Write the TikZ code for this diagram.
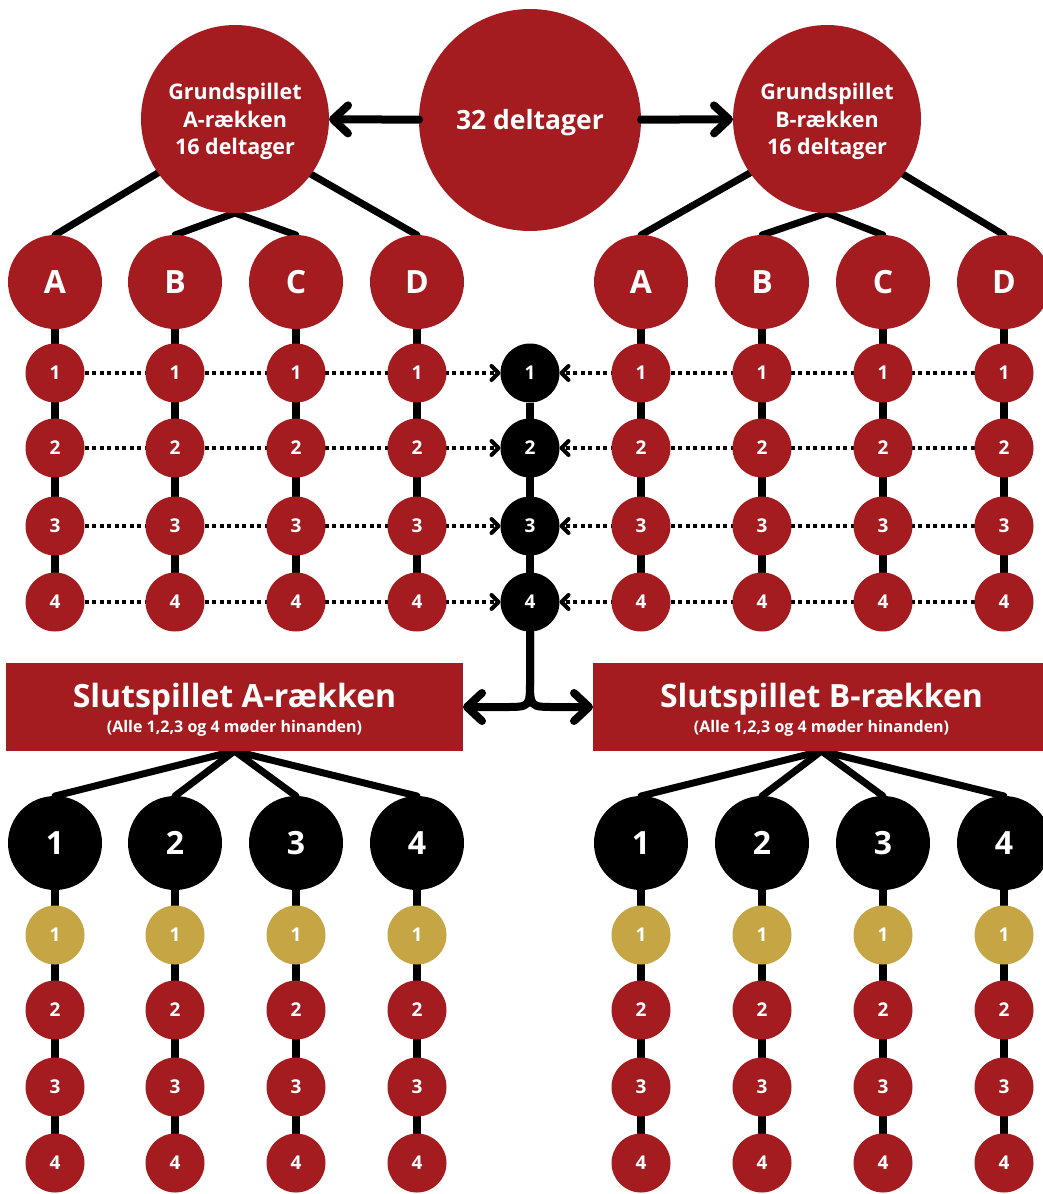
\documentclass[tikz,border=0pt]{standalone}
\usepackage{fontspec}
\setmainfont{Open Sans}
\usetikzlibrary{arrows.meta,backgrounds}
\definecolor{redc}{RGB}{165,28,32}
\definecolor{goldc}{RGB}{198,166,68}
\begin{document}
\begin{tikzpicture}[x=1pt,y=-1pt,
  every node/.style={inner sep=0pt,outer sep=0pt,text=white},
  bigc/.style={circle,fill=redc,minimum size=188pt},
  bigtext/.style={align=center,font=\fontsize{21.5}{27.5}\selectfont\bfseries},
  hugec/.style={circle,fill=redc,minimum size=222pt},
  hugetext/.style={font=\fontsize{26.5}{30}\selectfont\bfseries},
  letc/.style={circle,fill=redc,minimum size=94pt,font=\fontsize{32}{36}\selectfont\bfseries},
  blkc/.style={circle,fill=black,minimum size=94pt,font=\fontsize{32}{36}\selectfont\bfseries},
  smallc/.style={circle,fill=redc,minimum size=59pt,font=\fontsize{19}{22}\selectfont\bfseries},
  goldsc/.style={smallc,fill=goldc},
  blksc/.style={smallc,fill=black},
  boxc/.style={rectangle,fill=redc,minimum width=457pt,minimum height=88pt},
  titlec/.style={font=\fontsize{32}{36}\selectfont\bfseries},
  subc/.style={font=\fontsize{16}{18}\selectfont\bfseries},
  conn/.style={draw=black,line width=7pt,line cap=round},
  vline/.style={draw=black,line width=8pt},
  bigarrow/.style={draw=black,line width=8pt,line cap=round,-{Straight Barb[length=15pt,width=28pt,line cap=round,line join=round]}},
  dotarrow/.style={draw=black,line width=4pt,dash pattern=on 4pt off 3.5pt,-{Straight Barb[length=7pt,width=14pt,line cap=round,line join=round]}}
]
\useasboundingbox (0,0) rectangle (1042,1194);

% top
\node[hugec] (g32) at (530,120) {};
\node[hugetext] (t32) at (530,123) {32 deltager};
\node[bigc] (gA) at (235,119) {};
\node[bigtext] (tgA) at (235,121.5) {Grundspillet\\A-rækken\\16 deltager};
\node[bigc] (gB) at (827,119) {};
\node[bigtext] (tgB) at (827,121.5) {Grundspillet\\B-rækken\\16 deltager};
\draw[bigarrow] (g32) -- (gA);
\draw[bigarrow] (g32) -- (gB);

% left and right columns (top part)
\foreach \s/\lst in {L/{55/A,175/B,296/C,417/D},R/{641/A,762/B,883/C,1004/D}} {
  \foreach \x/\l in \lst {
    \node[letc] (\s\l) at (\x,282) {\l};
    \foreach \r/\y in {1/373,2/448,3/526,4/602}
      \node[smallc] (\s\l\r) at (\x,\y) {\r};
  }
}
% centre column
\foreach \r/\y in {1/373,2/448,3/526,4/602}
  \node[blksc] (c\r) at (530,\y) {\r};

% final boxes
\node[boxc] (boxA) at (234.5,707) {};
\node[titlec] (tA) at (234.5,699) {Slutspillet A-rækken};
\node[subc] (sA) at (234.5,728) {(Alle 1,2,3 og 4 møder hinanden)};
\node[boxc] (boxB) at (821.5,707) {};
\node[titlec] (tB) at (821.5,699) {Slutspillet B-rækken};
\node[subc] (sB) at (821.5,728) {(Alle 1,2,3 og 4 møder hinanden)};

% bottom columns
\foreach \s/\lst in {L/{55/1,175/2,296/3,417/4},R/{641/1,762/2,883/3,1004/4}} {
  \foreach \x/\n in \lst {
    \node[blkc] (\s F\n) at (\x,843) {\n};
    \node[goldsc] (\s F\n-1) at (\x,935) {1};
    \node[smallc] (\s F\n-2) at (\x,1010) {2};
    \node[smallc] (\s F\n-3) at (\x,1087) {3};
    \node[smallc] (\s F\n-4) at (\x,1163) {4};
  }
}

\coordinate (split) at (530,680);

\begin{pgfonlayer}{background}
  % tree lines from Grundspillet
  \draw[conn] (gA.215.5) -- (LA.north);
  \draw[conn] (gA.south) -- (LB.north);
  \draw[conn] (gA.south) -- (LC.north);
  \draw[conn] (gA.324.5) -- (LD.north);
  \draw[conn] (gB.215.5) -- (RA.north);
  \draw[conn] (gB.south) -- (RB.north);
  \draw[conn] (gB.south) -- (RC.north);
  \draw[conn] (gB.324.5) -- (RD.north);
  % vertical chains
  \foreach \s in {L,R} {
    \foreach \l in {A,B,C,D} \draw[vline] (\s\l) -- (\s\l4);
    \foreach \n in {1,2,3,4} \draw[vline] (\s F\n) -- (\s F\n-4);
  }
  \draw[vline] (c1) -- (c4);
  % dotted arrows
  \foreach \r in {1,2,3,4} {
    \draw[dotarrow] (LA\r) -- (c\r);
    \draw[dotarrow] (RD\r) -- (c\r);
  }
  % split to boxes
  \draw[bigarrow] (c4) -- (split) .. controls (530,707) .. (505,707) -- (boxA.east);
  \draw[bigarrow] (c4) -- (split) .. controls (530,707) .. (555,707) -- (boxB.west);
  % box to final circles
  \foreach \n in {1,2,3,4} {
    \draw[conn] (boxA.south) -- (LF\n.north);
    \draw[conn] (boxB.south) -- (RF\n.north);
  }
\end{pgfonlayer}
\end{tikzpicture}
\end{document}
